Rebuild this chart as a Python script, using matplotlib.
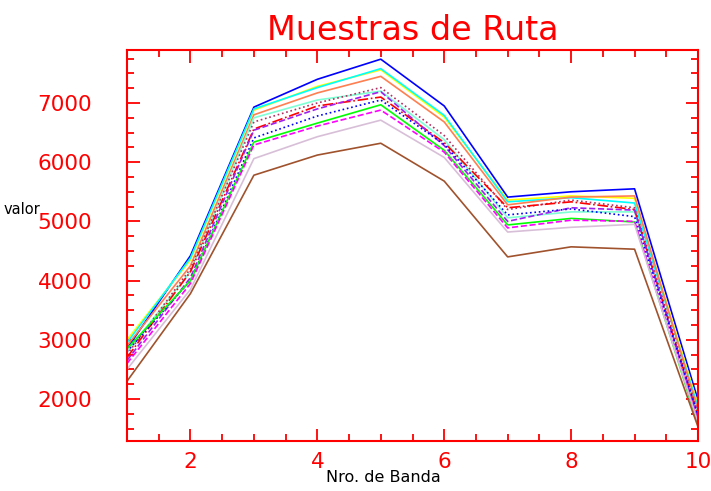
import matplotlib
matplotlib.use("Agg")
import matplotlib.pyplot as plt
from matplotlib.ticker import MultipleLocator

bands = [1, 2, 3, 4, 5, 6, 7, 8, 9, 10]

# valores, una muestra por serie
s_blue = [2850, 4420, 6930, 7400, 7740, 6950, 5410, 5500, 5550, 1980]
s_yellow = [3000, 4350, 6880, 7280, 7560, 6760, 5360, 5430, 5390, 1900]
s_cyan = [2950, 4380, 6900, 7260, 7580, 6790, 5330, 5400, 5310, 1860]
s_coral = [2900, 4250, 6800, 7170, 7450, 6680, 5280, 5410, 5430, 1800]
s_aqua = [2800, 4150, 6750, 7050, 7200, 6380, 5060, 5160, 5160, 1720]
s_maroon = [2750, 4200, 6680, 7000, 7260, 6450, 5200, 5360, 5230, 1760]
s_red = [2700, 4150, 6560, 6950, 7100, 6330, 5230, 5330, 5200, 1700]
s_purple = [2650, 4050, 6540, 6900, 7190, 6280, 5000, 5230, 5190, 1660]
s_blue2 = [2800, 4000, 6410, 6780, 7050, 6300, 5110, 5210, 5080, 1730]
s_green = [2850, 4000, 6340, 6660, 6970, 6200, 4940, 5050, 4990, 1560]
s_magenta = [2600, 3950, 6290, 6610, 6880, 6170, 4890, 5020, 5000, 1610]
s_thistle = [2500, 3850, 6060, 6430, 6710, 6080, 4820, 4900, 4950, 1600]
s_brown = [2300, 3780, 5780, 6120, 6320, 5680, 4400, 4570, 4530, 1530]

series = [s_blue, s_yellow, s_cyan, s_coral, s_aqua, s_maroon, s_red,
          s_purple, s_blue2, s_green, s_magenta, s_thistle, s_brown]
colors = ["#0000ff", "#ffff00", "#00ffff", "#ff7f50", "#7fffd4", "#b03060",
          "#ff0000", "#a020f0", "#0000ff", "#00ff00", "#ff00ff", "#d8bfd8",
          "#a0522d"]
styles = ["-", "-", "-", "-", "-", ":", "-.", "--", ":", "-", "--", "-", "-"]

red = "#ff0000"
fig = plt.figure(figsize=(7.11, 4.91), dpi=100)
ax = fig.add_axes([127 / 711, 1 - 441 / 491, 571 / 711, 391 / 491])

for vals, c, ls in zip(series, colors, styles):
    ax.plot(bands, vals, color=c, linestyle=ls, linewidth=1.2)

ax.set_xlim(1, 10)
ax.set_ylim(1290, 7895)
ax.xaxis.set_major_locator(MultipleLocator(2))
ax.xaxis.set_minor_locator(MultipleLocator(0.5))
ax.yaxis.set_major_locator(MultipleLocator(1000))
ax.yaxis.set_minor_locator(MultipleLocator(250))

for sp in ax.spines.values():
    sp.set_color(red)
    sp.set_linewidth(1.5)
ax.tick_params(which="both", direction="in", colors=red, top=True, right=True,
               labelsize=15.5, width=1.3)
ax.tick_params(which="major", length=9)
ax.tick_params(which="minor", length=5)
ax.tick_params(axis="y", pad=25)
ax.tick_params(axis="x", pad=8)

ax.set_title("Muestras de Ruta", color=red, fontsize=24, pad=7)
fig.text(4 / 711, 1 - 210 / 491, "valor", fontsize=10.5, va="center", ha="left")
fig.text(383 / 711, 1 - 477 / 491, "Nro. de Banda", fontsize=11.5,
         va="center", ha="center")

fig.savefig("out.png", dpi=100)
